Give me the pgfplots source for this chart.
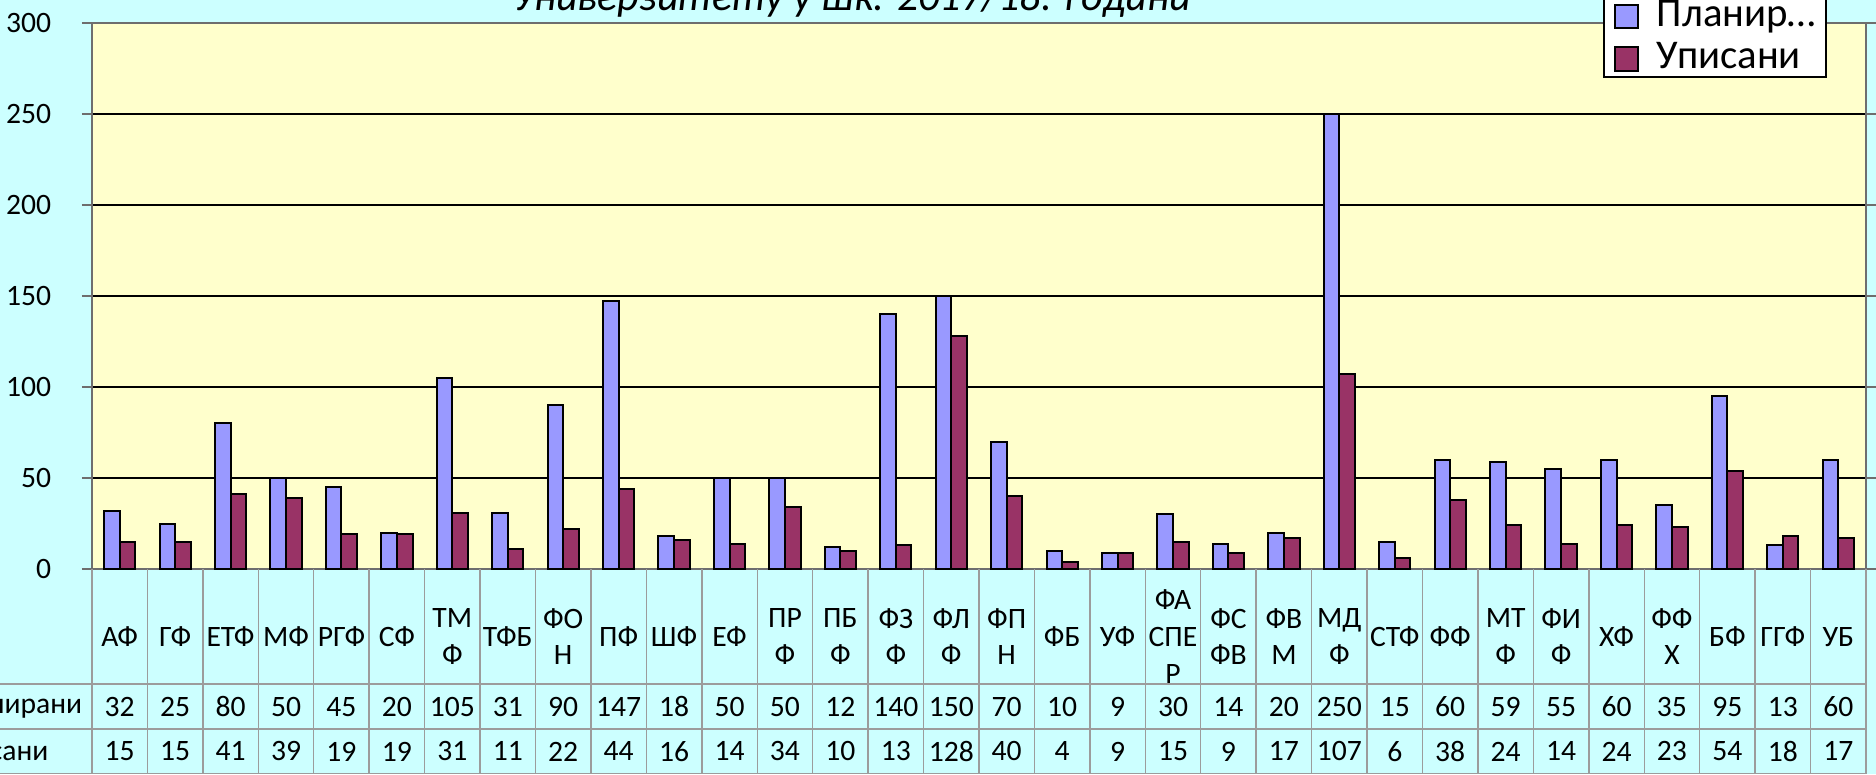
\documentclass[border=0pt]{standalone}
\usepackage{pgfplots}
\pgfplotsset{compat=1.18}
\usepackage{pgfplotstable}
\usepackage{fontspec}
\setmainfont{Carlito}
\usetikzlibrary{calc}

\definecolor{bgc}{HTML}{CCFFFF}
\definecolor{plotbg}{HTML}{FFFFCC}
\definecolor{cblue}{HTML}{9999FF}
\definecolor{cred}{HTML}{993366}
\definecolor{tgrid}{HTML}{9C9C9C}
\definecolor{frame}{HTML}{6E6E6E}

\pgfplotstableread{
idx plan upis
0 32 15
1 25 15
2 80 41
3 50 39
4 45 19
5 20 19
6 105 31
7 31 11
8 90 22
9 147 44
10 18 16
11 50 14
12 50 34
13 12 10
14 140 13
15 150 128
16 70 40
17 10 4
18 9 9
19 30 15
20 14 9
21 20 17
22 250 107
23 15 6
24 60 38
25 59 24
26 55 14
27 60 24
28 35 23
29 95 54
30 13 18
31 60 17
}\data

\newcommand{\tfont}{\fontsize{7.4}{9.2}\selectfont}

\begin{document}
\begin{tikzpicture}
\fill[bgc] (0,0) rectangle (469pt,193.5pt);
\begin{axis}[
  name=ax,
  at={(23pt,51.25pt)}, anchor=south west,
  scale only axis, width=443.5pt, height=136.5pt,
  xmin=-0.5, xmax=31.5, ymin=0, ymax=300,
  axis background/.style={fill=plotbg},
  axis line style={draw=frame, line width=0.5pt},
  ytick={0,50,...,300},
  ymajorgrids, grid style={black, line width=0.35pt},
  tick align=outside, major tick length=2.5pt,
  ytick style={draw=frame, line width=0.4pt},
  xtick={0,...,31},
  xtick style={draw=none},
  xticklabels={АФ, ГФ, ЕТФ, МФ, РГФ, СФ, {ТМ\\Ф}, ТФБ, {ФО\\Н}, ПФ, ШФ, ЕФ, {ПР\\Ф}, {ПБ\\Ф}, {ФЗ\\Ф}, {ФЛ\\Ф}, {ФП\\Н}, ФБ, УФ, {ФА\\СПЕ\\Р}, {ФС\\ФВ}, {ФВ\\М}, {МД\\Ф}, СТФ, ФФ, {МТ\\Ф}, {ФИ\\Ф}, ХФ, {ФФ\\Х}, БФ, ГГФ, УБ},
  xticklabel style={anchor=center, yshift=-14.4pt, align=center, font=\tfont, inner sep=0pt},
  yticklabel style={anchor=east, font=\tfont, inner sep=0pt, xshift=-7.5pt},
  /pgf/number format/assume math mode=true,
  clip=false,
  legend style={draw=black, fill=white, line width=0.5pt,
    font=\fontsize{10.2}{11}\selectfont,
    at={(0.8518,0.8993)}, anchor=south west,
    nodes={inner xsep=1pt},
    inner xsep=1.5pt, inner ysep=-1.5pt, row sep=-1.5pt,
    /tikz/every odd column/.append style={column sep=3.5pt}},
  legend cell align=left,
]
\addplot[ybar, bar width=3.9pt, bar shift=-1.95pt, fill=cblue, draw=black, line width=0.5pt,
  legend image code/.code={\path (0pt,0pt); \draw[fill=cblue, draw=black, line width=0.5pt] (0.9pt,-2.9pt) rectangle (6.7pt,2.9pt);}]
  table[x=idx, y=plan] {\data};
\addlegendentry{Планир…}
\addplot[ybar, bar width=3.9pt, bar shift=1.95pt, fill=cred, draw=black, line width=0.5pt,
  legend image code/.code={\path (0pt,0pt); \draw[fill=cred, draw=black, line width=0.5pt] (0.9pt,-2.9pt) rectangle (6.7pt,2.9pt);}]
  table[x=idx, y=upis] {\data};
\addlegendentry{Уписани}
\addplot[forget plot, only marks, mark=none, nodes near coords, point meta=explicit symbolic,
  nodes near coords style={anchor=center, yshift=-34.4pt, font=\tfont, text=black, inner sep=0pt}]
  table[x=idx, y expr=0, meta=plan] {\data};
\addplot[forget plot, only marks, mark=none, nodes near coords, point meta=explicit symbolic,
  nodes near coords style={anchor=center, yshift=-45.6pt, font=\tfont, text=black, inner sep=0pt}]
  table[x=idx, y expr=0, meta=upis] {\data};
\coordinate (O) at (rel axis cs:0,0);
\end{axis}
% data table grid
\foreach \k in {0,...,32}{
  \draw[tgrid, line width=0.35pt] ($(O)+(\k*13.859375pt,0)$) -- ++(0,-51.25pt);
}
\draw[tgrid, line width=0.35pt] (0,22.5pt) -- (466.5pt,22.5pt);
\draw[tgrid, line width=0.35pt] (0,11.25pt) -- (466.5pt,11.25pt);
\draw[tgrid, line width=0.35pt] (0,0.1pt) -- (466.5pt,0.1pt);
\node[anchor=east, inner sep=0pt, font=\tfont] at (20.75pt,16.9pt) {Планирани};
\node[anchor=east, inner sep=0pt, font=\tfont] at (12.3pt,5.6pt) {Уписани};
% title (cut by the page edge)
\node[anchor=base, inner sep=0pt, font=\itshape\fontsize{10.5}{12}\selectfont] at (213pt,190.8pt) {Универзитету у шк. 2017/18. години};
\pgfresetboundingbox
\path[use as bounding box] (0,0) rectangle (469pt,193.5pt);
\end{tikzpicture}
\end{document}
